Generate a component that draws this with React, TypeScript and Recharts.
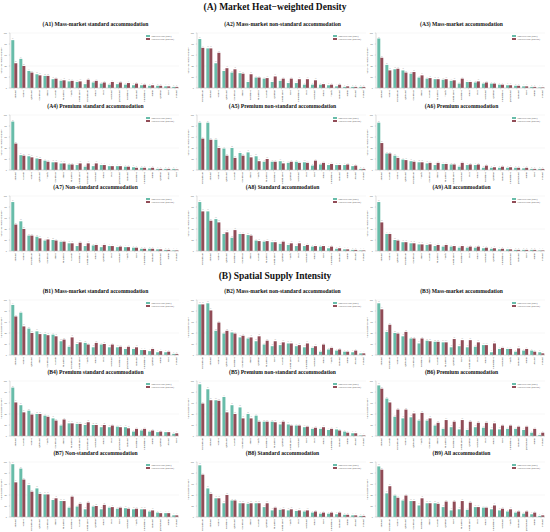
import React from "react";
import { Bar, BarChart, CartesianGrid, LabelList, Legend, XAxis, YAxis } from "recharts";

const TEAL = "#68bca9";
const RED = "#914c57";
const SERIF = "'Liberation Serif', 'Times New Roman', serif";

const seriesNames = ["Observed value (2023)", "Expected value (baseline)"];
const yTicks = [0, 20, 40, 60, 80, 100];

const catA1 = ["Jinjiang", "Wuhou", "Qingyang", "Chenghua", "Jinniu", "Gaoxin", "Shuangliu", "Tianfu", "Longquanyi", "Dujiangyan", "Xindu", "Pidu", "Wenjiang", "Qingbaijiang", "Pengzhou", "Jianyang", "Chongzhou", "Xinjin", "Qionglai", "Dayi", "Pujiang"];
const catA2 = ["Dujiangyan", "Jinjiang", "Wuhou", "Qingyang", "Chenghua", "Jinniu", "Pengzhou", "Shuangliu", "Gaoxin", "Qionglai", "Longquanyi", "Dayi", "Chongzhou", "Pidu", "Wenjiang", "Xindu", "Tianfu", "Jianyang", "Xinjin", "Jintang", "Pujiang"];
const catA3 = ["Jinjiang", "Wuhou", "Dujiangyan", "Qingyang", "Chenghua", "Jinniu", "Gaoxin", "Shuangliu", "Tianfu", "Longquanyi", "Pengzhou", "Xindu", "Pidu", "Wenjiang", "Qionglai", "Chongzhou", "Qingbaijiang", "Jianyang", "Dayi", "Xinjin", "Pujiang"];
const catA4 = ["Jinjiang", "Gaoxin", "Wuhou", "Qingyang", "Tianfu", "Chenghua", "Jinniu", "Shuangliu", "Longquanyi", "Dujiangyan", "Wenjiang", "Xindu", "Pidu", "Qingbaijiang", "Jianyang", "Pengzhou", "Chongzhou", "Xinjin", "Qionglai", "Jintang", "Dayi"];
const catA5 = ["Dujiangyan", "Jinjiang", "Wuhou", "Qingyang", "Gaoxin", "Chenghua", "Jinniu", "Tianfu", "Shuangliu", "Pengzhou", "Longquanyi", "Qionglai", "Wenjiang", "Pidu", "Dayi", "Xindu", "Chongzhou", "Jianyang", "Xinjin", "Jintang", "Pujiang"];
const catA6 = ["Jinjiang", "Gaoxin", "Wuhou", "Qingyang", "Dujiangyan", "Tianfu", "Chenghua", "Jinniu", "Shuangliu", "Longquanyi", "Wenjiang", "Pidu", "Xindu", "Pengzhou", "Qionglai", "Jianyang", "Chongzhou", "Qingbaijiang", "Xinjin", "Dayi", "Pujiang"];
const catA7 = ["Jinjiang", "Wuhou", "Dujiangyan", "Qingyang", "Chenghua", "Jinniu", "Shuangliu", "Gaoxin", "Pengzhou", "Longquanyi", "Xindu", "Qionglai", "Pidu", "Wenjiang", "Tianfu", "Dayi", "Chongzhou", "Jianyang", "Qingbaijiang", "Xinjin", "Pujiang"];
const catA8 = ["Dujiangyan", "Jinjiang", "Wuhou", "Qingyang", "Pengzhou", "Chenghua", "Jinniu", "Gaoxin", "Shuangliu", "Longquanyi", "Qionglai", "Tianfu", "Pidu", "Wenjiang", "Xindu", "Dayi", "Chongzhou", "Jianyang", "Xinjin", "Jintang", "Pujiang"];
const catA9 = ["Jinjiang", "Wuhou", "Qingyang", "Dujiangyan", "Chenghua", "Jinniu", "Gaoxin", "Shuangliu", "Tianfu", "Longquanyi", "Pengzhou", "Pidu", "Xindu", "Wenjiang", "Qionglai", "Chongzhou", "Qingbaijiang", "Jianyang", "Dayi", "Xinjin", "Pujiang"];
const catB1 = ["Jinjiang", "Wuhou", "Qingyang", "Jinniu", "Chenghua", "Gaoxin", "Shuangliu", "Dujiangyan", "Longquanyi", "Tianfu", "Xindu", "Pidu", "Wenjiang", "Pengzhou", "Qingbaijiang", "Jianyang", "Chongzhou", "Qionglai", "Xinjin", "Dayi", "Pujiang"];
const catB2 = ["Dujiangyan", "Jinjiang", "Wuhou", "Qingyang", "Pengzhou", "Chenghua", "Jinniu", "Qionglai", "Shuangliu", "Dayi", "Gaoxin", "Longquanyi", "Pidu", "Chongzhou", "Wenjiang", "Xindu", "Tianfu", "Jianyang", "Xinjin", "Jintang", "Pujiang"];
const catB3 = ["Jinjiang", "Dujiangyan", "Wuhou", "Qingyang", "Chenghua", "Pengzhou", "Jinniu", "Gaoxin", "Shuangliu", "Qionglai", "Dayi", "Longquanyi", "Pidu", "Xindu", "Chongzhou", "Wenjiang", "Tianfu", "Jianyang", "Xinjin", "Jintang", "Pujiang"];
const catB4 = ["Jinjiang", "Gaoxin", "Wuhou", "Qingyang", "Tianfu", "Chenghua", "Jinniu", "Shuangliu", "Longquanyi", "Dujiangyan", "Wenjiang", "Xindu", "Pidu", "Qingbaijiang", "Jianyang", "Pengzhou", "Chongzhou", "Xinjin", "Qionglai", "Jintang", "Dayi"];
const catB5 = ["Dujiangyan", "Jinjiang", "Wuhou", "Qingyang", "Gaoxin", "Chenghua", "Jinniu", "Tianfu", "Pengzhou", "Shuangliu", "Qionglai", "Longquanyi", "Wenjiang", "Dayi", "Pidu", "Xindu", "Chongzhou", "Jianyang", "Xinjin", "Jintang", "Pujiang"];
const catB6 = ["Jinjiang", "Gaoxin", "Dujiangyan", "Wuhou", "Qingyang", "Tianfu", "Chenghua", "Jinniu", "Shuangliu", "Pengzhou", "Longquanyi", "Qionglai", "Wenjiang", "Pidu", "Xindu", "Dayi", "Chongzhou", "Jianyang", "Qingbaijiang", "Xinjin", "Pujiang"];
const catB7 = ["Jinjiang", "Wuhou", "Dujiangyan", "Qingyang", "Chenghua", "Jinniu", "Shuangliu", "Pengzhou", "Gaoxin", "Longquanyi", "Qionglai", "Xindu", "Pidu", "Dayi", "Wenjiang", "Tianfu", "Chongzhou", "Jianyang", "Qingbaijiang", "Xinjin", "Pujiang"];
const catB8 = ["Dujiangyan", "Jinjiang", "Wuhou", "Pengzhou", "Qingyang", "Chenghua", "Jinniu", "Gaoxin", "Qionglai", "Shuangliu", "Longquanyi", "Tianfu", "Pidu", "Wenjiang", "Xindu", "Dayi", "Chongzhou", "Jianyang", "Xinjin", "Jintang", "Pujiang"];
const catB9 = ["Jinjiang", "Dujiangyan", "Wuhou", "Qingyang", "Chenghua", "Pengzhou", "Jinniu", "Gaoxin", "Qionglai", "Dayi", "Shuangliu", "Longquanyi", "Pidu", "Xindu", "Chongzhou", "Wenjiang", "Tianfu", "Jianyang", "Qingbaijiang", "Xinjin", "Pujiang"];

const tealA1 = [87, 53, 31, 25, 22, 16, 13, 12, 11, 7, 10, 8, 6, 7, 6, 5, 5, 4, 4, 3, 2];
const redA1 = [45, 40, 28, 23, 22, 17, 14, 13, 12, 15, 13, 10, 11, 10, 9, 8, 6, 5, 4, 3, 2];
const tealA2 = [89, 72, 45, 31, 28, 27, 11, 19, 17, 11, 13, 9, 9, 6, 6, 6, 5, 3, 2, 2, 2];
const redA2 = [73, 72, 64, 36, 34, 26, 25, 19, 18, 21, 17, 17, 16, 16, 14, 7, 6, 6, 3, 2, 2];
const tealA3 = [90, 42, 34, 32, 26, 19, 17, 16, 15, 13, 8, 11, 10, 8, 8, 6, 5, 4, 3, 2, 1];
const redA3 = [55, 32, 35, 28, 29, 23, 18, 16, 16, 14, 17, 11, 12, 10, 8, 6, 5, 4, 3, 2, 1];
const tealA4 = [88, 27, 25, 21, 17, 14, 12, 10, 9, 6, 7, 9, 7, 7, 6, 5, 4, 3, 2, 2, 2];
const redA4 = [48, 26, 23, 20, 15, 14, 12, 10, 12, 12, 12, 9, 7, 7, 6, 4, 4, 4, 2, 2, 1];
const tealA5 = [86, 86, 55, 39, 40, 31, 32, 25, 15, 15, 16, 13, 15, 14, 8, 10, 9, 9, 9, 7, 2];
const redA5 = [57, 55, 40, 26, 22, 26, 23, 16, 20, 15, 12, 15, 13, 13, 17, 13, 11, 9, 10, 8, 2];
const tealA6 = [86, 30, 26, 19, 16, 14, 12, 9, 11, 10, 6, 9, 9, 4, 4, 4, 4, 4, 3, 2, 2];
const redA6 = [49, 30, 22, 18, 15, 14, 13, 13, 11, 10, 13, 10, 10, 8, 5, 6, 5, 4, 4, 2, 2];
const tealA7 = [89, 54, 28, 26, 19, 20, 17, 14, 9, 9, 10, 7, 9, 7, 7, 6, 4, 4, 3, 2, 1];
const redA7 = [48, 40, 28, 23, 21, 19, 17, 14, 15, 14, 11, 11, 9, 8, 7, 6, 4, 4, 3, 2, 1];
const tealA8 = [89, 72, 58, 31, 24, 31, 29, 19, 17, 16, 13, 11, 9, 9, 8, 8, 5, 4, 3, 2, 1];
const redA8 = [72, 55, 52, 34, 38, 31, 28, 18, 18, 16, 17, 14, 14, 11, 9, 9, 8, 5, 3, 2, 1];
const tealA9 = [89, 31, 20, 16, 14, 12, 11, 9, 8, 8, 6, 6, 6, 5, 4, 3, 3, 2, 2, 2, 1];
const redA9 = [52, 31, 19, 16, 14, 12, 12, 11, 11, 9, 9, 8, 8, 6, 5, 4, 3, 2, 2, 2, 1];

const tealB1 = [91, 77, 48, 43, 38, 37, 25, 15, 20, 22, 14, 19, 14, 14, 11, 11, 9, 7, 5, 5, 2];
const redB1 = [70, 52, 40, 38, 36, 34, 28, 32, 23, 19, 22, 20, 19, 15, 15, 14, 9, 11, 7, 6, 2];
const tealB2 = [92, 94, 44, 39, 41, 32, 30, 25, 19, 16, 18, 21, 16, 14, 13, 6, 10, 8, 6, 5, 3];
const redB2 = [92, 81, 59, 44, 39, 35, 32, 34, 26, 25, 23, 21, 18, 21, 16, 19, 13, 10, 6, 8, 3];
const tealB3 = [94, 42, 40, 34, 30, 21, 26, 24, 23, 14, 16, 14, 15, 18, 5, 11, 11, 6, 8, 8, 5];
const redB3 = [83, 55, 39, 42, 30, 30, 25, 24, 23, 29, 27, 27, 23, 18, 21, 13, 11, 12, 11, 6, 3];
const tealB4 = [88, 56, 46, 40, 37, 32, 19, 23, 22, 20, 20, 16, 16, 17, 16, 8, 10, 8, 7, 7, 4];
const redB4 = [61, 43, 39, 40, 35, 28, 30, 23, 22, 25, 20, 20, 19, 16, 14, 13, 13, 10, 8, 7, 5];
const tealB5 = [94, 85, 65, 71, 56, 52, 40, 37, 26, 26, 21, 21, 19, 16, 13, 13, 11, 12, 8, 5, 1];
const redB5 = [59, 65, 64, 43, 40, 32, 32, 26, 26, 25, 26, 19, 19, 17, 15, 16, 13, 10, 6, 5, 1];
const tealB6 = [92, 68, 35, 32, 34, 28, 28, 19, 13, 16, 12, 11, 16, 15, 12, 12, 13, 13, 11, 6, 2];
const redB6 = [86, 61, 48, 48, 41, 42, 32, 24, 29, 26, 29, 26, 24, 24, 23, 19, 19, 17, 17, 13, 6];
const tealB7 = [96, 88, 58, 52, 41, 31, 29, 17, 19, 14, 19, 14, 17, 15, 16, 14, 14, 10, 8, 7, 3];
const redB7 = [63, 68, 46, 42, 41, 34, 29, 37, 24, 26, 20, 22, 18, 17, 15, 15, 14, 12, 7, 7, 3];
const tealB8 = [94, 52, 34, 25, 30, 25, 24, 25, 18, 12, 13, 12, 11, 10, 8, 6, 6, 5, 4, 3, 2];
const redB8 = [77, 42, 34, 40, 30, 25, 25, 25, 25, 17, 14, 14, 12, 12, 10, 8, 8, 8, 4, 3, 2];
const tealB9 = [92, 43, 39, 30, 29, 21, 25, 25, 18, 12, 14, 13, 18, 17, 14, 12, 10, 8, 6, 5, 2];
const redB9 = [86, 56, 35, 39, 29, 34, 25, 24, 28, 28, 29, 26, 18, 17, 21, 15, 14, 10, 10, 8, 3];

const COLS = [-2, 185, 364];
const ROWS_A = [19.5, 101.5, 182.5];
const ROWS_B = [286.5, 367.5, 448.5];

function LegendBox(props: any) {
  const items = [...(props.payload || [])].sort((a: any, b: any) =>
    a.dataKey === "teal" ? -1 : b.dataKey === "teal" ? 1 : 0
  );
  return (
    <div style={{ fontSize: 2.2, fontFamily: SERIF, color: "#444", lineHeight: "3px" }}>
      {items.map((it: any) => (
        <div key={it.value} style={{ display: "flex", alignItems: "center" }}>
          <span style={{ display: "inline-block", width: 4, height: 1.6, background: it.color, marginRight: 1.5 }} />
          {it.value}
        </div>
      ))}
    </div>
  );
}

function Panel({ left, top, title, cats, teal, red, yLabel }: any) {
  const rows = cats.map((c: string, i: number) => ({ name: c, teal: teal[i], red: red[i] }));
  return (
    <div style={{ position: "absolute", left, top, width: 183 }}>
      <div
        style={{
          height: 9,
          lineHeight: "9px",
          paddingLeft: 12,
          textAlign: "center",
          fontFamily: SERIF,
          fontWeight: "bold",
          fontSize: 5.6,
          color: "#111",
          whiteSpace: "nowrap",
        }}
      >
        {title}
      </div>
      <BarChart width={183} height={73} data={rows} margin={{ top: 4, right: 2, left: 0, bottom: 0 }} barCategoryGap="16%" barGap={0}>
        <CartesianGrid vertical={false} stroke="#ececec" strokeWidth={0.4} />
        <XAxis
          dataKey="name"
          interval={0}
          height={14}
          angle={-90}
          textAnchor="end"
          tickSize={1.2}
          tick={{ fontSize: 2.5, fill: "#222", fontFamily: SERIF, dy: -1 }}
          stroke="#bbb"
          strokeWidth={0.5}
        />
        <XAxis xAxisId="top" dataKey="name" orientation="top" height={0} tick={false} tickLine={false} stroke="#ccc" strokeWidth={0.5} />
        <YAxis
          width={12}
          domain={[0, 100]}
          ticks={yTicks}
          tickSize={1.2}
          tick={{ fontSize: 2.2, fill: "#333", fontFamily: SERIF }}
          stroke="#bbb"
          strokeWidth={0.5}
          label={{ value: yLabel, angle: -90, position: "insideLeft", offset: 3, fontSize: 2.2, fill: "#333", fontFamily: SERIF, style: { textAnchor: "middle" } }}
        />
        <YAxis yAxisId="right" orientation="right" width={0} domain={[0, 100]} tick={false} tickLine={false} stroke="#ccc" strokeWidth={0.5} />
        <Legend
          layout="vertical"
          align="center"
          verticalAlign="middle"
          content={<LegendBox />}
          wrapperStyle={{ top: 6, right: 7, left: "auto", width: "auto" }}
        />
        <Bar dataKey="teal" name={seriesNames[0]} fill={TEAL} isAnimationActive={false}>
          <LabelList dataKey="teal" position="top" offset={1} fontSize={1.6} fill="#999" />
        </Bar>
        <Bar dataKey="red" name={seriesNames[1]} fill={RED} isAnimationActive={false}>
          <LabelList dataKey="red" position="top" offset={1} fontSize={1.6} fill="#999" />
        </Bar>
      </BarChart>
    </div>
  );
}

const panelsA = [
  { title: "(A1) Mass-market standard accommodation", cats: catA1, teal: tealA1, red: redA1 },
  { title: "(A2) Mass-market non-standard accommodation", cats: catA2, teal: tealA2, red: redA2 },
  { title: "(A3) Mass-market accommodation", cats: catA3, teal: tealA3, red: redA3 },
  { title: "(A4) Premium standard accommodation", cats: catA4, teal: tealA4, red: redA4 },
  { title: "(A5) Premium non-standard accommodation", cats: catA5, teal: tealA5, red: redA5 },
  { title: "(A6) Premium accommodation", cats: catA6, teal: tealA6, red: redA6 },
  { title: "(A7) Non-standard accommodation", cats: catA7, teal: tealA7, red: redA7 },
  { title: "(A8) Standard accommodation", cats: catA8, teal: tealA8, red: redA8 },
  { title: "(A9) All accommodation", cats: catA9, teal: tealA9, red: redA9 },
];

const panelsB = [
  { title: "(B1) Mass-market standard accommodation", cats: catB1, teal: tealB1, red: redB1 },
  { title: "(B2) Mass-market non-standard accommodation", cats: catB2, teal: tealB2, red: redB2 },
  { title: "(B3) Mass-market accommodation", cats: catB3, teal: tealB3, red: redB3 },
  { title: "(B4) Premium standard accommodation", cats: catB4, teal: tealB4, red: redB4 },
  { title: "(B5) Premium non-standard accommodation", cats: catB5, teal: tealB5, red: redB5 },
  { title: "(B6) Premium accommodation", cats: catB6, teal: tealB6, red: redB6 },
  { title: "(B7) Non-standard accommodation", cats: catB7, teal: tealB7, red: redB7 },
  { title: "(B8) Standard accommodation", cats: catB8, teal: tealB8, red: redB8 },
  { title: "(B9) All accommodation", cats: catB9, teal: tealB9, red: redB9 },
];

const sectionTitle: React.CSSProperties = {
  position: "absolute",
  left: 0,
  width: 550,
  textAlign: "center",
  fontFamily: SERIF,
  fontWeight: "bold",
  fontSize: 9.5,
  color: "#111",
  lineHeight: "12px",
};

export default function App() {
  return (
    <div style={{ position: "absolute", left: 0, top: 0, width: 550, height: 532, background: "#fff", overflow: "hidden" }}>
      <div style={{ ...sectionTitle, top: 1 }}>(A) Market Heat−weighted Density</div>
      {panelsA.map((p, i) => (
        <Panel key={p.title} left={COLS[i % 3]} top={ROWS_A[Math.floor(i / 3)]} yLabel="Market heat-weighted density" {...p} />
      ))}
      <div style={{ ...sectionTitle, top: 270 }}>(B) Spatial Supply Intensity</div>
      {panelsB.map((p, i) => (
        <Panel key={p.title} left={COLS[i % 3]} top={ROWS_B[Math.floor(i / 3)]} yLabel="Spatial supply intensity" {...p} />
      ))}
    </div>
  );
}
